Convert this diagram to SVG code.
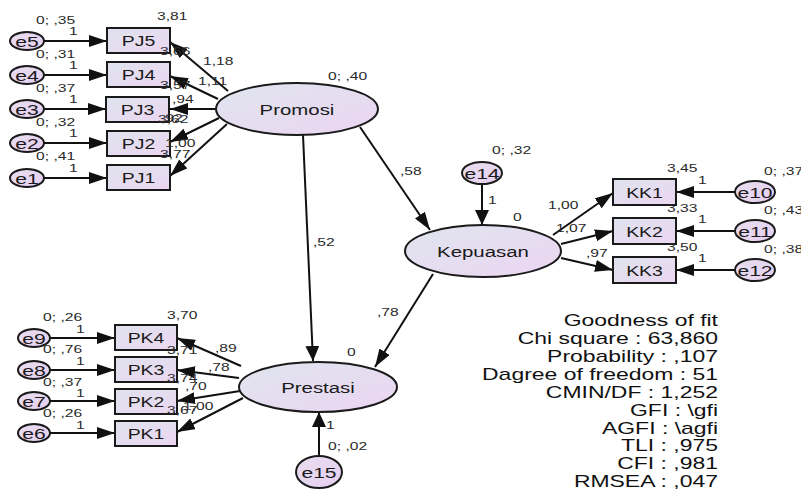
<svg xmlns="http://www.w3.org/2000/svg" width="801" height="492" viewBox="0 0 801 492">
<defs>
<linearGradient id="gBox" x1="0" y1="0" x2="1" y2="1">
<stop offset="0" stop-color="#dfe3ee"/>
<stop offset="1" stop-color="#ebd6f1"/>
</linearGradient>
<linearGradient id="gLat" x1="0" y1="0" x2="1" y2="1">
<stop offset="0" stop-color="#e0e5ef"/>
<stop offset="1" stop-color="#ebd5f1"/>
</linearGradient>
<linearGradient id="gErr" x1="0" y1="0" x2="1" y2="1">
<stop offset="0" stop-color="#e8ddf0"/>
<stop offset="1" stop-color="#e6cff0"/>
</linearGradient>
<marker id="ah" markerUnits="userSpaceOnUse" markerWidth="19" markerHeight="12" refX="18" refY="6" orient="auto">
<path d="M0,0 L18,6 L0,12 z" fill="#111"/>
</marker>
<marker id="av" markerUnits="userSpaceOnUse" markerWidth="16" markerHeight="14" refX="15" refY="7" orient="auto">
<path d="M0,0 L15,7 L0,14 z" fill="#111"/>
</marker>
</defs>
<style>
.box{fill:url(#gBox);stroke:#1a1a1a;stroke-width:2}
.lat{fill:url(#gLat);stroke:#1a1a1a;stroke-width:2}
.err{fill:url(#gErr);stroke:#1a1a1a;stroke-width:2}
.ln{stroke:#111;stroke-width:2;fill:none;marker-end:url(#ah)}
.lv{stroke:#111;stroke-width:2;fill:none;marker-end:url(#av)}
text{font-family:"Liberation Sans",Arial,sans-serif;fill:#1a1a1a}
.s{font-size:11.5px;fill:#2a2a2a}
.n{font-size:14.3px;text-anchor:middle}
.e{font-size:15.5px;text-anchor:middle}
.l{font-size:15px;text-anchor:middle}
.f{font-size:16.4px;text-anchor:end;fill:#111}
</style>
<rect width="801" height="492" fill="#ffffff"/>

<g id="connectors">
<line class="ln" x1="44" y1="41" x2="107" y2="41"/>
<line class="ln" x1="44" y1="75" x2="107" y2="75"/>
<line class="ln" x1="44" y1="109" x2="106" y2="109"/>
<line class="ln" x1="44" y1="143" x2="107" y2="143"/>
<line class="ln" x1="44" y1="178" x2="107" y2="178"/>
<line class="ln" x1="228" y1="91" x2="170" y2="42"/>
<line class="ln" x1="218" y1="99" x2="170" y2="76"/>
<line class="ln" x1="216" y1="109" x2="170" y2="109"/>
<line class="ln" x1="219" y1="118" x2="170" y2="142"/>
<line class="ln" x1="227" y1="124" x2="170" y2="176"/>
<line class="ln" x1="360" y1="127" x2="430" y2="230"/>
<line class="lv" x1="303" y1="135" x2="313" y2="361"/>
<line class="ln" x1="433" y1="274" x2="375" y2="367"/>
<line class="lv" x1="482" y1="184" x2="482" y2="225"/>
<line class="lv" x1="319" y1="456" x2="319" y2="412"/>
<line class="ln" x1="553" y1="235" x2="613" y2="193"/>
<line class="ln" x1="561" y1="244" x2="613" y2="231"/>
<line class="ln" x1="561" y1="258" x2="613" y2="270"/>
<line class="ln" x1="735" y1="192" x2="676" y2="192"/>
<line class="ln" x1="735" y1="231" x2="676" y2="231"/>
<line class="ln" x1="735" y1="270" x2="676" y2="270"/>
<line class="ln" x1="241" y1="366" x2="177" y2="338"/>
<line class="ln" x1="239" y1="378" x2="177" y2="370"/>
<line class="ln" x1="240" y1="391" x2="177" y2="401"/>
<line class="ln" x1="243" y1="398" x2="177" y2="432"/>
<line class="ln" x1="50" y1="338" x2="115" y2="338"/>
<line class="ln" x1="50" y1="370" x2="115" y2="370"/>
<line class="ln" x1="50" y1="401" x2="115" y2="401"/>
<line class="ln" x1="50" y1="433" x2="115" y2="433"/>
</g>

<g id="PJ5"><rect class="box" x="107" y="28" width="63" height="25"/><text class="n" transform="translate(138.5,46) scale(1.36,1)">PJ5</text></g>
<g id="PJ4"><rect class="box" x="107" y="62" width="63" height="25"/><text class="n" transform="translate(138.5,80) scale(1.36,1)">PJ4</text></g>
<g id="PJ3"><rect class="box" x="106" y="97" width="63" height="25"/><text class="n" transform="translate(137.5,115) scale(1.36,1)">PJ3</text></g>
<g id="PJ2"><rect class="box" x="107" y="131" width="63" height="25"/><text class="n" transform="translate(138.5,149) scale(1.36,1)">PJ2</text></g>
<g id="PJ1"><rect class="box" x="107" y="165" width="63" height="25"/><text class="n" transform="translate(138.5,183) scale(1.36,1)">PJ1</text></g>

<g id="e5"><ellipse class="err" cx="27" cy="41" rx="17" ry="9"/><text class="e" transform="translate(27,46.5) scale(1.36,1)">e5</text></g>
<g id="e4"><ellipse class="err" cx="27" cy="75" rx="17" ry="9"/><text class="e" transform="translate(27,80.5) scale(1.36,1)">e4</text></g>
<g id="e3"><ellipse class="err" cx="27" cy="109" rx="17" ry="9"/><text class="e" transform="translate(27,114.5) scale(1.36,1)">e3</text></g>
<g id="e2"><ellipse class="err" cx="27" cy="143" rx="17" ry="9"/><text class="e" transform="translate(27,148.5) scale(1.36,1)">e2</text></g>
<g id="e1"><ellipse class="err" cx="27" cy="178" rx="17" ry="9"/><text class="e" transform="translate(27,183.5) scale(1.36,1)">e1</text></g>

<g id="Promosi"><ellipse class="lat" cx="297" cy="109" rx="81" ry="26"/><text class="l" transform="translate(297,114.5) scale(1.36,1)">Promosi</text></g>
<g id="Kepuasan"><ellipse class="lat" cx="483" cy="251" rx="78" ry="26"/><text class="l" transform="translate(483,256.5) scale(1.36,1)">Kepuasan</text></g>
<g id="Prestasi"><ellipse class="lat" cx="318" cy="387" rx="79" ry="25"/><text class="l" transform="translate(318,392.5) scale(1.36,1)">Prestasi</text></g>

<g id="e14"><ellipse class="err" cx="482" cy="173" rx="20" ry="11"/><text class="e" transform="translate(482,178.5) scale(1.36,1)">e14</text></g>
<g id="e15"><ellipse class="err" cx="319" cy="472" rx="23" ry="16"/><text class="e" transform="translate(319,477.5) scale(1.36,1)">e15</text></g>

<g id="KK1"><rect class="box" x="613" y="179" width="63" height="26"/><text class="n" transform="translate(644.5,197.5) scale(1.36,1)">KK1</text></g>
<g id="KK2"><rect class="box" x="613" y="218" width="63" height="26"/><text class="n" transform="translate(644.5,236.5) scale(1.36,1)">KK2</text></g>
<g id="KK3"><rect class="box" x="613" y="257" width="63" height="26"/><text class="n" transform="translate(644.5,275.5) scale(1.36,1)">KK3</text></g>
<g id="e10"><ellipse class="err" cx="755" cy="192" rx="20" ry="11"/><text class="e" transform="translate(755,197.5) scale(1.36,1)">e10</text></g>
<g id="e11"><ellipse class="err" cx="755" cy="231" rx="20" ry="11"/><text class="e" transform="translate(755,236.5) scale(1.36,1)">e11</text></g>
<g id="e12"><ellipse class="err" cx="755" cy="270" rx="20" ry="11"/><text class="e" transform="translate(755,275.5) scale(1.36,1)">e12</text></g>

<g id="PK4"><rect class="box" x="115" y="325" width="62" height="25"/><text class="n" transform="translate(146,343) scale(1.36,1)">PK4</text></g>
<g id="PK3"><rect class="box" x="115" y="357" width="62" height="25"/><text class="n" transform="translate(146,375) scale(1.36,1)">PK3</text></g>
<g id="PK2"><rect class="box" x="115" y="389" width="62" height="25"/><text class="n" transform="translate(146,407) scale(1.36,1)">PK2</text></g>
<g id="PK1"><rect class="box" x="115" y="421" width="62" height="25"/><text class="n" transform="translate(146,439) scale(1.36,1)">PK1</text></g>
<g id="e9"><ellipse class="err" cx="34" cy="338" rx="16" ry="9"/><text class="e" transform="translate(34,343.5) scale(1.36,1)">e9</text></g>
<g id="e8"><ellipse class="err" cx="34" cy="370" rx="16" ry="9"/><text class="e" transform="translate(34,375.5) scale(1.36,1)">e8</text></g>
<g id="e7"><ellipse class="err" cx="34" cy="401" rx="16" ry="9"/><text class="e" transform="translate(34,406.5) scale(1.36,1)">e7</text></g>
<g id="e6"><ellipse class="err" cx="34" cy="433" rx="16" ry="9"/><text class="e" transform="translate(34,438.5) scale(1.36,1)">e6</text></g>

<g id="labels">
<text class="s" transform="translate(36,24) scale(1.36,1)">0; ,35</text>
<text class="s" transform="translate(69,35) scale(1.36,1)">1</text>
<text class="s" transform="translate(36,58) scale(1.36,1)">0; ,31</text>
<text class="s" transform="translate(69,69) scale(1.36,1)">1</text>
<text class="s" transform="translate(36,92) scale(1.36,1)">0; ,37</text>
<text class="s" transform="translate(69,103) scale(1.36,1)">1</text>
<text class="s" transform="translate(36,126) scale(1.36,1)">0; ,32</text>
<text class="s" transform="translate(69,137) scale(1.36,1)">1</text>
<text class="s" transform="translate(36,160) scale(1.36,1)">0; ,41</text>
<text class="s" transform="translate(69,172) scale(1.36,1)">1</text>
<text class="s" transform="translate(157,20) scale(1.36,1)">3,81</text>
<text class="s" transform="translate(160,55) scale(1.36,1)">3,66</text>
<text class="s" transform="translate(160,89) scale(1.36,1)">3,57</text>
<text class="s" transform="translate(158,123) scale(1.36,1)">3,62</text>
<text class="s" transform="translate(161,122) scale(1.36,1)">,92</text>
<text class="s" transform="translate(160,158) scale(1.36,1)">3,77</text>
<text class="s" transform="translate(203,65) scale(1.36,1)">1,18</text>
<text class="s" transform="translate(198,85) scale(1.36,1)">1,11</text>
<text class="s" transform="translate(172,103) scale(1.36,1)">,94</text>
<text class="s" transform="translate(165,147) scale(1.36,1)">1,00</text>
<text class="s" transform="translate(328,80) scale(1.36,1)">0; ,40</text>
<text class="s" transform="translate(400,175) scale(1.36,1)">,58</text>
<text class="s" transform="translate(313,246) scale(1.36,1)">,52</text>
<text class="s" transform="translate(377,316) scale(1.36,1)">,78</text>
<text class="s" transform="translate(492,154) scale(1.36,1)">0; ,32</text>
<text class="s" transform="translate(488,204) scale(1.36,1)">1</text>
<text class="s" transform="translate(513,221) scale(1.36,1)">0</text>
<text class="s" transform="translate(548,209) scale(1.36,1)">1,00</text>
<text class="s" transform="translate(556,232) scale(1.36,1)">1,07</text>
<text class="s" transform="translate(586,257) scale(1.36,1)">,97</text>
<text class="s" transform="translate(667,172) scale(1.36,1)">3,45</text>
<text class="s" transform="translate(667,212) scale(1.36,1)">3,33</text>
<text class="s" transform="translate(667,251) scale(1.36,1)">3,50</text>
<text class="s" transform="translate(698,184) scale(1.36,1)">1</text>
<text class="s" transform="translate(698,223) scale(1.36,1)">1</text>
<text class="s" transform="translate(698,262) scale(1.36,1)">1</text>
<text class="s" transform="translate(764,175) scale(1.36,1)">0; ,37</text>
<text class="s" transform="translate(764,214) scale(1.36,1)">0; ,43</text>
<text class="s" transform="translate(764,253) scale(1.36,1)">0; ,38</text>
<text class="s" transform="translate(43,321) scale(1.36,1)">0; ,26</text>
<text class="s" transform="translate(76,333) scale(1.36,1)">1</text>
<text class="s" transform="translate(43,353) scale(1.36,1)">0; ,76</text>
<text class="s" transform="translate(76,365) scale(1.36,1)">1</text>
<text class="s" transform="translate(43,386) scale(1.36,1)">0; ,37</text>
<text class="s" transform="translate(76,397) scale(1.36,1)">1</text>
<text class="s" transform="translate(43,417) scale(1.36,1)">0; ,26</text>
<text class="s" transform="translate(76,429) scale(1.36,1)">1</text>
<text class="s" transform="translate(167,319) scale(1.36,1)">3,70</text>
<text class="s" transform="translate(167,354) scale(1.36,1)">3,71</text>
<text class="s" transform="translate(167,382) scale(1.36,1)">3,74</text>
<text class="s" transform="translate(167,414) scale(1.36,1)">3,67</text>
<text class="s" transform="translate(215,352) scale(1.36,1)">,89</text>
<text class="s" transform="translate(208,371) scale(1.36,1)">,78</text>
<text class="s" transform="translate(185,390) scale(1.36,1)">,70</text>
<text class="s" transform="translate(183,410) scale(1.36,1)">1,00</text>
<text class="s" transform="translate(347,356) scale(1.36,1)">0</text>
<text class="s" transform="translate(326,429) scale(1.36,1)">1</text>
<text class="s" transform="translate(328,450) scale(1.36,1)">0; ,02</text>
</g>

<g id="fit">
<text class="f" transform="translate(718,326) scale(1.4,1)">Goodness of fit</text>
<text class="f" transform="translate(718,344) scale(1.4,1)">Chi square : 63,860</text>
<text class="f" transform="translate(718,362) scale(1.4,1)">Probability : ,107</text>
<text class="f" transform="translate(718,380) scale(1.4,1)">Dagree of freedom : 51</text>
<text class="f" transform="translate(718,398) scale(1.4,1)">CMIN/DF : 1,252</text>
<text class="f" transform="translate(718,416) scale(1.4,1)">GFI : \gfi</text>
<text class="f" transform="translate(718,434) scale(1.4,1)">AGFI : \agfi</text>
<text class="f" transform="translate(718,451) scale(1.4,1)">TLI : ,975</text>
<text class="f" transform="translate(718,469) scale(1.4,1)">CFI : ,981</text>
<text class="f" transform="translate(718,487) scale(1.4,1)">RMSEA : ,047</text>
</g>
</svg>
